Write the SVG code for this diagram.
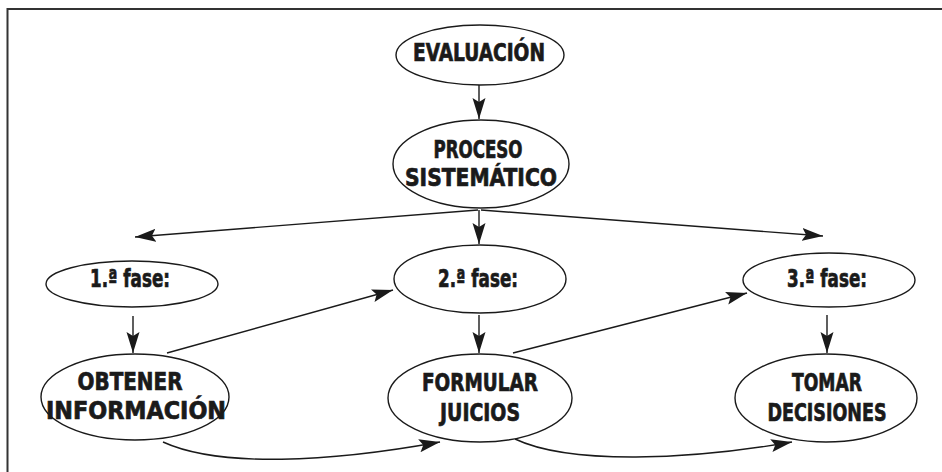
<svg xmlns="http://www.w3.org/2000/svg" width="942" height="472" viewBox="0 0 942 472">
<defs>
<marker id="ah" markerUnits="userSpaceOnUse" markerWidth="24" markerHeight="14" refX="21" refY="6.5" orient="auto">
<path d="M0,0 L21,6.5 L0,13 L4,6.5 z" fill="#1a1a1a"/>
</marker>
<style>
.n{fill:#fff;stroke:#1a1a1a;stroke-width:1.4}
.t{font-family:"Liberation Sans Narrow","DejaVu Sans Condensed","Liberation Sans",sans-serif;font-weight:bold;font-size:25px;fill:#1a1a1a;stroke:#1a1a1a;stroke-width:0.7;text-anchor:middle}
.c{fill:none;stroke:#1a1a1a;stroke-width:1.4;marker-end:url(#ah)}
.f{fill:none;stroke:#333;stroke-width:2}
</style>
</defs>
<rect width="942" height="472" fill="#fff"/>
<path class="f" d="M7.5,472 L7.5,9 L942,9"/>
<g id="connectors">
<path class="c" d="M479,85 L479,119"/>
<path class="c" d="M478,210 L135,237"/>
<path class="c" d="M479,210 L479,244"/>
<path class="c" d="M481,210 L823,236"/>
<path class="c" d="M133,316 L133,353"/>
<path class="c" d="M479,315 L479,353"/>
<path class="c" d="M827,315 L827,353"/>
<path class="c" d="M167,353 L393,290"/>
<path class="c" d="M513,353 L747,293"/>
<path class="c" d="M163,442 C220,468 330,462 440,442"/>
<path class="c" d="M515,439 C570,465 690,460 792,442"/>
</g>
<g id="evaluacion">
<ellipse class="n" cx="480" cy="55" rx="84" ry="30"/>
<text class="t" x="479" y="61" textLength="132" lengthAdjust="spacingAndGlyphs">EVALUACIÓN</text>
</g>
<g id="proceso">
<ellipse class="n" cx="481" cy="164" rx="88" ry="44"/>
<text class="t" x="478" y="158" textLength="89" lengthAdjust="spacingAndGlyphs">PROCESO</text>
<text class="t" x="481" y="186" textLength="152" lengthAdjust="spacingAndGlyphs">SISTEMÁTICO</text>
</g>
<g id="fase1">
<ellipse class="n" cx="132" cy="284" rx="86" ry="23"/>
<text class="t" x="130" y="287" textLength="80" lengthAdjust="spacingAndGlyphs">1.ª fase:</text>
</g>
<g id="fase2">
<ellipse class="n" cx="480" cy="279" rx="86" ry="34"/>
<text class="t" x="478" y="287" textLength="80" lengthAdjust="spacingAndGlyphs">2.ª fase:</text>
</g>
<g id="fase3">
<ellipse class="n" cx="829" cy="280" rx="86" ry="27"/>
<text class="t" x="827" y="287" textLength="80" lengthAdjust="spacingAndGlyphs">3.ª fase:</text>
</g>
<g id="obtener">
<ellipse class="n" cx="135" cy="397" rx="94" ry="43"/>
<text class="t" x="130" y="390" textLength="105" lengthAdjust="spacingAndGlyphs">OBTENER</text>
<text class="t" x="136" y="419" textLength="180" lengthAdjust="spacingAndGlyphs">INFORMACIÓN</text>
</g>
<g id="formular">
<ellipse class="n" cx="480" cy="398" rx="92" ry="44"/>
<text class="t" x="480" y="391" textLength="116" lengthAdjust="spacingAndGlyphs">FORMULAR</text>
<text class="t" x="480" y="421" textLength="80" lengthAdjust="spacingAndGlyphs">JUICIOS</text>
</g>
<g id="tomar">
<ellipse class="n" cx="826" cy="398" rx="91" ry="44"/>
<text class="t" x="827" y="391" textLength="70" lengthAdjust="spacingAndGlyphs">TOMAR</text>
<text class="t" x="827" y="421" textLength="119" lengthAdjust="spacingAndGlyphs">DECISIONES</text>
</g>
</svg>
